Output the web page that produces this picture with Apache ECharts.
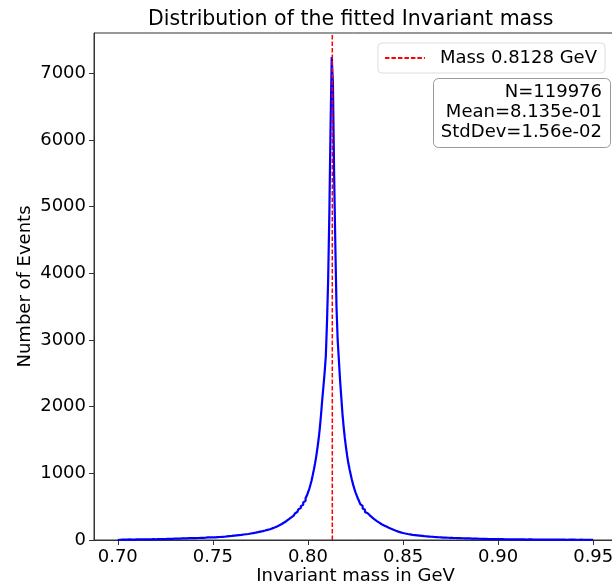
<!DOCTYPE html>
<html>
<head>
<meta charset="utf-8">
<script src="https://cdn.jsdelivr.net/npm/echarts@6/dist/echarts.min.js"></script>
<style>
html,body{margin:0;padding:0;background:#fff;}
#chart{width:612px;height:586px;}
</style>
</head>
<body>
<div id="chart"></div>
<script>
// ---- data ----
const titleText = 'Distribution of the fitted Invariant mass';
const xAxisName = 'Invariant mass in GeV';
const yAxisName = 'Number of Events';
const massValue = 0.8128;
const massLabel = 'Mass 0.8128 GeV';
const statLines = ['N=119976', 'Mean=8.135e-01', 'StdDev=1.56e-02'];
const xTicks = [0.70, 0.75, 0.80, 0.85, 0.90, 0.95];
const yTicks = [0, 1000, 2000, 3000, 4000, 5000, 6000, 7000];
const xRange = [0.6875, 0.9625];
const yRange = [0, 7602];
const binStart = 0.70;
const binWidth = 0.000625;
// 400 histogram bin counts (0.70 -> 0.95)
const leftCounts = [
5,4,6,5,7,6,5,7,6,8, 7,6,8,7,9,8,7,9,8,10,
9,8,10,11,9,10,12,10,11,13, 12,11,13,14,12,13,15,14,16,15,
16,18,16,17,19,18,17,20,19,21, 20,22,21,23,22,24,23,25,24,27,
25,27,26,28,30,29,31,30,33,32, 34,33,36,35,37,38,36,40,39,41,
42,40,44,43,46,45,48,47,51,49, 53,55,54,58,57,61,60,65,64,69,
68,73,72,77,76,82,83,86,91,90, 97,98,103,104,109,110,116,117,124,125,
132,133,140,142,150,152,160,162,171,174, 182,187,197,203,214,220,233,240,255,262,
278,285,302,312,330,340,358,366,387,398, 420,435,460,478,508,528,563,588,628,662,
712,758,822,888,972,1058,1152,1258,1382,1518, 1682,1878,2102,2298,2505,2748,3252,3905,4898,6182
];
const rightCounts = [
7240,6850,5500,4450,3500,3000,2700,2400,2150,1900,
1700,1530,1390,1260,1150,1060,980,900,830,770,
715,668,622,584,538,510,472,455,418,405, 380,370,346,340,312,308,288,284,262,261,
250,236,236,219,216,201,198,184,181,168, 165,153,151,139,135,126,123,115,113,105,
104,97,97,90,91,84,85,78,79,74, 75,70,70,66,67,62,63,58,60,55,
56,52,53,49,50,46,47,44,44,41, 42,39,40,37,38,36,37,34,35,33,
34,31,32,30,31,29,30,28,28,26, 27,25,26,24,25,23,23,22,22,21,
21,20,20,19,19,18,18,17,17,16, 17,15,16,14,15,14,14,13,13,12,
12,12,11,12,11,11,10,11,10,10, 10,9,10,9,9,10,9,8,9,8,
9,8,8,7,8,8,7,8,7,7, 8,7,6,7,7,6,7,6,6,7,
6,6,5,6,6,5,6,5,6,5, 5,6,5,5,4,5,5,4,5,5,
4,5,4,5,4,4,5,4,4,5, 4,4,3,4,4,3,4,4,3,4
];
const counts = leftCounts.concat(rightCounts);

// ---- build step outline from bin edges ----
const histPoints = [[binStart, 0]];
for (let i = 0; i < counts.length; i++) {
  histPoints.push([binStart + i * binWidth, counts[i]]);
}
const binEnd = binStart + counts.length * binWidth;
histPoints.push([binEnd, counts[counts.length - 1]]);
histPoints.push([binEnd, 0]);

const FONT = 'DejaVu Sans';
const chart = echarts.init(document.getElementById('chart'), null, {renderer: 'canvas'});
chart.setOption({
  animation: false,
  backgroundColor: '#ffffff',
  title: {
    text: titleText,
    left: 148, top: 9, padding: 0,
    textStyle: {fontFamily: FONT, fontSize: 20.5, fontWeight: 'normal', color: '#000'}
  },
  grid: {
    left: 94, right: -5, top: 33, bottom: 46,
    outerBoundsMode: 'none', containLabel: false,
    show: true, borderColor: '#333', borderWidth: 1, backgroundColor: 'transparent'
  },
  legend: {
    data: [{name: massLabel}],
    right: 7, top: 43,
    padding: [6, 8, 6, 6],
    backgroundColor: '#fff',
    borderColor: '#dddddd', borderWidth: 1, borderRadius: 4,
    itemWidth: 40, itemHeight: 14,
    itemStyle: {opacity: 0},
    textStyle: {fontFamily: FONT, fontSize: 18, color: '#000', padding: [0, 0, 0, 10]}
  },
  xAxis: {
    type: 'value', min: xRange[0], max: xRange[1],
    name: xAxisName, nameLocation: 'middle', nameGap: 27, nameMoveOverlap: false,
    nameTextStyle: {fontFamily: FONT, fontSize: 18, color: '#000'},
    splitLine: {show: false},
    axisLine: {show: true, onZero: false, lineStyle: {color: '#333', width: 1}},
    axisTick: {show: true, inside: false, length: 5, customValues: xTicks, lineStyle: {color: '#333'}},
    axisLabel: {customValues: xTicks, margin: 8, fontFamily: FONT, fontSize: 18, color: '#000',
      formatter: v => v.toFixed(2)}
  },
  yAxis: {
    type: 'value', min: yRange[0], max: yRange[1],
    name: yAxisName, nameLocation: 'middle', nameGap: 60, nameMoveOverlap: false,
    nameTextStyle: {fontFamily: FONT, fontSize: 18, color: '#000'},
    splitLine: {show: false},
    axisLine: {show: true, lineStyle: {color: '#333', width: 1}},
    axisTick: {show: true, inside: false, length: 5, customValues: yTicks, lineStyle: {color: '#333'}},
    axisLabel: {customValues: yTicks, margin: 8, fontFamily: FONT, fontSize: 18, color: '#000',
      formatter: v => String(v)}
  },
  series: [
    {
      name: 'hist', type: 'line', data: histPoints, step: 'end',
      symbol: 'none', showSymbol: false, silent: true, z: 2,
      lineStyle: {color: '#0000ff', width: 2.2}
    },
    {
      name: massLabel, type: 'line', data: [[massValue, yRange[0]], [massValue, yRange[1]]],
      symbol: 'none', showSymbol: false, silent: true, z: 3,
      itemStyle: {color: '#ff0000'},
      lineStyle: {color: '#ff0000', width: 1.5, type: [4.5, 2]}
    }
  ],
  graphic: [
    {
      type: 'rect', left: 433, top: 78, z: 10,
      shape: {width: 177, height: 69, r: 5},
      style: {fill: '#ffffff', stroke: '#999999', lineWidth: 1}
    },
    {
      type: 'text', z: 11, x: 602, y: 82,
      style: {
        text: statLines.join('\n'), align: 'right', verticalAlign: 'top',
        font: '18px "DejaVu Sans"', lineHeight: 20, fill: '#000'
      }
    }
  ]
});
</script>
</body>
</html>
